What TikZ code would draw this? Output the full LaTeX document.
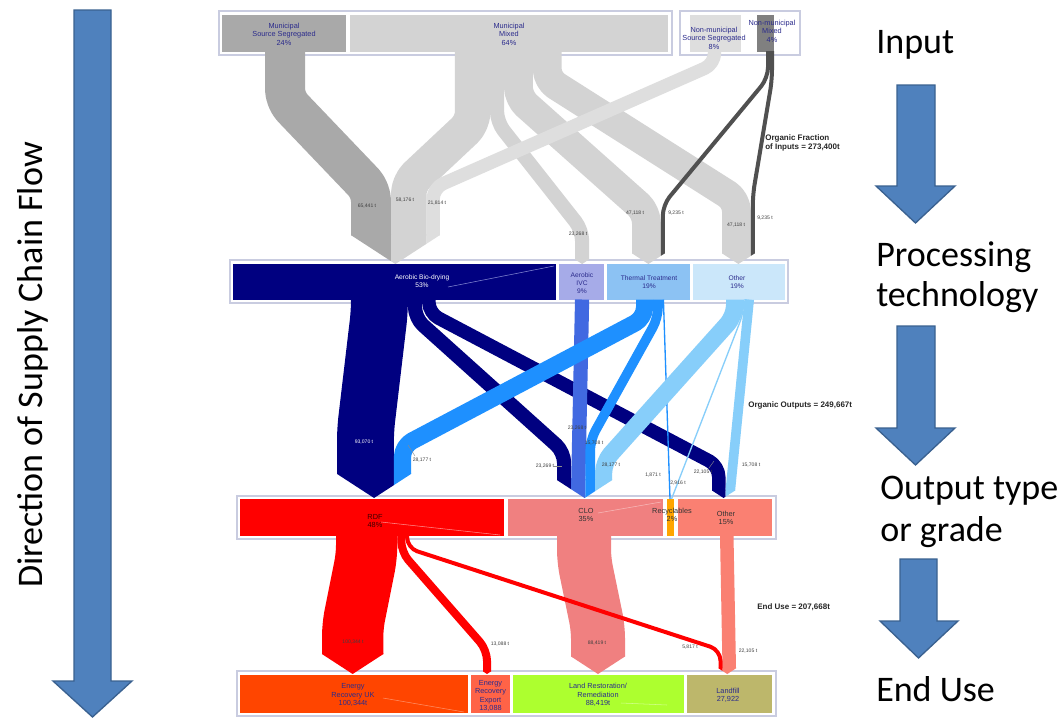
\documentclass[tikz,border=0pt]{standalone}
\usepackage{fontspec}
\setmainfont{Liberation Sans}
\newfontfamily\calibfont{Carlito}
% input colours
\definecolor{cMSS}{HTML}{A9A9A9}
\definecolor{cMM}{HTML}{D3D3D3}
\definecolor{cNMSS}{HTML}{DEDEDE}
\definecolor{cNMMbox}{HTML}{808080}
\definecolor{cNMM}{HTML}{505050}
% processing colours
\definecolor{cBio}{HTML}{000080}
\definecolor{cIVCbox}{HTML}{A6ABE8}
\definecolor{cIVC}{HTML}{4169E1}
\definecolor{cThbox}{HTML}{8CC2F3}
\definecolor{cTh}{HTML}{1E90FF}
\definecolor{cOPbox}{HTML}{CBE7FA}
\definecolor{cOP}{HTML}{87CEFA}
% output colours
\definecolor{cRDF}{HTML}{FF0000}
\definecolor{cCLO}{HTML}{F08080}
\definecolor{cRec}{HTML}{FFA500}
\definecolor{cOO}{HTML}{FA8072}
% end-use colours
\definecolor{cERUK}{HTML}{FF4500}
\definecolor{cERX}{HTML}{FF6347}
\definecolor{cLand}{HTML}{ADFF2F}
\definecolor{cLfill}{HTML}{BDB76B}
% frames, text, arrows
\definecolor{cFrame}{HTML}{C9CCE0}
\definecolor{cBoxText}{HTML}{2B2B8C}
\definecolor{cArrow}{HTML}{4F81BD}
\definecolor{cArrowEdge}{HTML}{3A6190}

% pointed end of a band: colour, xa, xb, group left, group right, tip y
\newcommand\chevpiece[6]{%
  \pgfmathsetmacro\chT{(#4+#5)/2}%
  \pgfmathsetmacro\chH{(#5-#4)/2}%
  \pgfmathsetmacro\chB{#6-0.65*\chH}%
  \pgfmathsetmacro\chC{min(max(\chT,#2),#3)}%
  \pgfmathsetmacro\chYa{\chB+0.65*(\chH-abs(#2-\chT))}%
  \pgfmathsetmacro\chYb{\chB+0.65*(\chH-abs(#3-\chT))}%
  \pgfmathsetmacro\chYc{\chB+0.65*(\chH-abs(\chC-\chT))}%
  \fill[#1] (#2,\chB-0.6) -- (#3,\chB-0.6) -- (#3,\chYb) -- (\chC,\chYc) -- (#2,\chYa) -- cycle;%
}

\begin{document}
\begin{tikzpicture}[x=0.75pt,y=-0.75pt,
  band/.style={line cap=butt,line join=round,rounded corners=8pt},
  bw/.style={line width=#1*0.75pt},
  box/.style={draw=none,inner sep=0,anchor=north west},
  bwh/.style 2 args={minimum width=#1*0.75pt,minimum height=#2*0.75pt},
  grpframe/.style={draw=cFrame,line width=1.1pt},
  lbl/.style={inner sep=0,align=center,font=\fontsize{5.5}{6.3}\selectfont,text=cBoxText},
  plbl/.style={inner sep=0,align=center,font=\fontsize{5}{6}\selectfont,text=cBoxText},
  flab/.style={inner sep=0,font=\fontsize{3.8}{4.5}\selectfont,text=black!75},
  note/.style={inner sep=0,anchor=west,align=left,font=\bfseries\fontsize{6}{7.2}\selectfont,text=black!85},
  big/.style={inner sep=0,anchor=base west,font=\calibfont\fontsize{27}{30}\selectfont,text=black},
  flowarrow/.style={fill=cArrow,draw=cArrowEdge,line width=1pt,line join=miter},
  leader/.style={draw=black!45,line width=0.3pt},
]
\fill[white] (0,0) rectangle (1063,718);
\path[use as bounding box] (0,0) rectangle (1063,718);

% ---------- direction arrows and stage captions ----------
\draw[flowarrow] (74,10) -- (111,10) -- (111,681) -- (132,681) -- (92.5,717) -- (53,681) -- (74,681) -- cycle;
\node[inner sep=0,rotate=90,font=\calibfont\fontsize{27}{30}\selectfont] (dir) at (33,365) {Direction of Supply Chain Flow};

\draw[flowarrow] (897,85) -- (935,85) -- (935,186) -- (955,186) -- (915.5,223) -- (876,186) -- (897,186) -- cycle;
\draw[flowarrow] (897,326) -- (935,326) -- (935,428) -- (955,428) -- (915.5,465) -- (876,428) -- (897,428) -- cycle;
\draw[flowarrow] (900,559) -- (937,559) -- (937,621) -- (958,621) -- (918.5,658) -- (880,621) -- (900,621) -- cycle;

\node[big] (capin) at (876,53) {Input};
\node[big] (capproc1) at (876,266) {Processing};
\node[big] (capproc2) at (876,306) {technology};
\node[big] (capout1) at (880,499) {Output type};
\node[big] (capout2) at (880,541) {or grade};
\node[big] (capend) at (876,701) {End Use};

% ---------- group frames ----------
\draw[grpframe] (219,11) rectangle (672,55);
\draw[grpframe] (680,11) rectangle (800,55);
\draw[grpframe] (230,260) rectangle (788,303);
\draw[grpframe] (237,496) rectangle (776,539);
\draw[grpframe] (237,671) rectangle (776,716);

% ---------- boxes ----------
\node[box,fill=cMSS,bwh={124}{37}] (mss) at (222,15) {};
\node[box,fill=cMM,bwh={318}{37}] (mm) at (350,15) {};
\node[box,fill=cNMSS,bwh={51}{37}] (nmss) at (690,15) {};
\node[box,fill=cNMMbox,bwh={17}{37}] (nmm) at (757,15) {};

\node[box,fill=cBio,bwh={323}{36}] (bio) at (233,264) {};
\node[box,fill=cIVCbox,bwh={45}{36}] (ivc) at (559,264) {};
\node[box,fill=cThbox,bwh={83}{36}] (thermal) at (607,264) {};
\node[box,fill=cOPbox,bwh={92}{36}] (otherp) at (693,264) {};

\node[box,fill=cRDF,bwh={264}{37}] (rdf) at (240,499) {};
\node[box,fill=cCLO,bwh={155}{37}] (clo) at (508,499) {};
\node[box,fill=cRec,bwh={7}{37}] (recyc) at (667,499) {};
\node[box,fill=cOO,bwh={94}{37}] (othero) at (678,499) {};

\node[box,fill=cERUK,bwh={228}{38}] (eruk) at (240,675) {};
\node[box,fill=cERX,bwh={39}{38}] (erex) at (471,675) {};
\node[box,fill=cLand,bwh={171}{38}] (land) at (513,675) {};
\node[box,fill=cLfill,bwh={85}{38}] (landfill) at (687,675) {};

% faint label leaders inside boxes
\draw[cIVCbox!80!cBio,line width=0.4pt] (448,287) -- (554,266);
\draw[white!55!cRDF,line width=0.4pt] (381,522) -- (500,535);
\draw[white!45!cCLO,line width=0.4pt] (598,513) -- (661,502);
\draw[white!40!cERUK,line width=0.4pt] (383,698) -- (464,712);
\draw[white!45!cLand,line width=0.4pt] (621,703) -- (667,705);

% ---------- inputs -> processing ----------
\draw[band,cMSS,bw=40] (285,51) -- (285,100) -- (371,190) -- (371,235.3);
\draw[band,cMM,bw=35.5] (472.7,51) -- (472.7,123) -- (408.75,183) -- (408.75,235.3);
\draw[band,cMM,bw=14.2] (497,51) -- (497,122) -- (582.1,230) -- (582.1,259.4);
\draw[band,cMM,bw=28.8] (518.4,51) -- (518.4,98) -- (646.4,212) -- (646.4,253.3);
\draw[band,cMM,bw=28.8] (547.2,51) -- (547.2,80) -- (736.4,200) -- (736.4,253.3);
\draw[band,cNMSS,bw=13.3] (714.5,51) -- (714.5,64) -- (433.15,188) -- (433.15,235.3);
\draw[band,cNMM,bw=4] (768,51) -- (768,78) -- (662.8,205) -- (662.8,253.3);
\draw[band,cNMM,bw=4] (772,51) -- (772,80) -- (752.8,195) -- (752.8,253.3);

\chevpiece{cMSS}{351}{391}{351}{439.8}{264}
\chevpiece{cMM}{391}{426.5}{351}{439.8}{264}
\chevpiece{cNMSS}{426.5}{439.8}{351}{439.8}{264}
\chevpiece{cMM}{575}{589.2}{575}{589.2}{264}
\chevpiece{cMM}{632}{660.8}{632}{664.8}{264}
\chevpiece{cNMM}{660.8}{664.8}{632}{664.8}{264}
\chevpiece{cMM}{722}{750.8}{722}{754.8}{264}
\chevpiece{cNMM}{750.8}{754.8}{722}{754.8}{264}

\node[flab] (l1) at (367,206) {65,441 t};
\node[flab] (l2) at (405,200) {58,176 t};
\node[flab] (l3) at (437,203) {21,814 t};
\node[flab] (l4) at (578,234) {23,268 t};
\node[flab] (l5) at (635,213) {47,118 t};
\node[flab] (l6) at (676,213) {9,235 t};
\node[flab] (l7) at (736,225) {47,118 t};
\node[flab] (l8) at (765,218) {9,235 t};

% ---------- processing -> outputs ----------
\draw[band,cBio,bw=56.9] (379.4,299.5) -- (379.4,312) -- (365.45,430) -- (365.45,473.9);
\draw[band,cBio,bw=14.2] (415,299.5) -- (415,318) -- (564.1,452) -- (564.1,480.1);
\draw[band,cBio,bw=13.5] (428.85,299.5) -- (428.85,313) -- (718.75,466) -- (718.75,490.5);
\draw[band,cIVC,bw=14.2] (582.1,299.5) -- (578.3,480.1);
\draw[band,cTh,bw=17.2] (644.6,299.5) -- (644.6,318) -- (402.5,446) -- (402.5,473.9);
\draw[band,cTh,bw=9.6] (658,299.5) -- (658,318) -- (590.2,440) -- (590.2,480.1);
\draw[cTh,line width=1pt] (663.4,299.5) -- (670,499);
\draw[band,cOP,bw=17.2] (734.6,299.5) -- (734.6,316) -- (603.6,462) -- (603.6,480.1);
\draw[band,cOP,line width=1pt] (743.8,299.5) -- (743.8,312) -- (671.5,499);
\draw[band,cOP,bw=9.6] (749.2,299.5) -- (730.3,490.5);

\chevpiece{cBio}{337}{393.9}{337}{411.1}{498}
\chevpiece{cTh}{393.9}{411.1}{337}{411.1}{498}
\chevpiece{cBio}{557}{571.2}{557}{612.2}{498}
\chevpiece{cIVC}{571.2}{585.4}{557}{612.2}{498}
\chevpiece{cTh}{585.4}{595}{557}{612.2}{498}
\chevpiece{cOP}{595}{612.2}{557}{612.2}{498}
\chevpiece{cBio}{712}{725.5}{712}{735.1}{498}
\chevpiece{cOP}{725.5}{735.1}{712}{735.1}{498}

\node[flab,text=white] (m1) at (364,442) {93,070 t};
\node[flab] (m2) at (422,460) {28,177 t};
\draw[leader] (408,445) -- (415,456);
\node[flab] (m3) at (577,428) {23,268 t};
\node[flab] (m4) at (594,443) {15,708 t};
\node[flab] (m5) at (545,466) {23,269 t};
\draw[leader] (553,466) -- (562,466);
\node[flab] (m6) at (611,465) {28,177 t};
\node[flab] (m7) at (653,475) {1,871 t};
\node[flab] (m8) at (678,483) {2,916 t};
\node[flab] (m9) at (703,472) {22,105 t};
\draw[leader] (709,468) -- (714,461);
\node[flab] (m10) at (751,465) {15,708 t};

% ---------- outputs -> end use ----------
\draw[band,cRDF,bw=61.3] (366.65,535.5) -- (366.65,556) -- (352.65,626) -- (352.65,654.1);
\draw[band,cRDF,bw=8] (401.3,535.5) -- (401.3,552) -- (487,650) -- (487,671.4);
\draw[band,cCLO,bw=54] (584,535.5) -- (584,560) -- (598,628) -- (598,656.45);
\draw[band,cOO,bw=13.5] (726.75,535.5) -- (729.25,668.3);
\draw[band,cRDF,bw=4] (407.1,535.5) -- (407.1,548) -- (720.5,650) -- (720.5,668.3);

\chevpiece{cRDF}{322}{383.3}{322}{383.3}{674}
\chevpiece{cRDF}{483}{491}{483}{491}{674}
\chevpiece{cCLO}{571}{625}{571}{625}{674}
\chevpiece{cRDF}{718.5}{722.5}{718.5}{736}{674}
\chevpiece{cOO}{722.5}{736}{718.5}{736}{674}

\node[flab] (e1) at (353,642) {100,344 t};
\node[flab] (e2) at (500,644) {13,088 t};
\node[flab] (e3) at (597,643) {88,419 t};
\node[flab] (e4) at (690,647) {5,817 t};
\node[flab] (e5) at (748,651) {22,105 t};

% ---------- box labels ----------
\node[lbl] (tmss) at (284,34) {Municipal\\Source Segregated\\24\%};
\node[lbl] (tmm) at (509,34) {Municipal\\Mixed\\64\%};
\node[lbl] (tnmss) at (714,38) {Non-municipal\\Source Segregated\\8\%};
\node[lbl] (tnmm) at (772,31) {Non-municipal\\Mixed\\4\%};

\node[plbl,text=white] (tbio) at (422,281) {Aerobic Bio-drying\\53\%};
\node[plbl] (tivc) at (582,283) {Aerobic\\IVC\\9\%};
\node[plbl] (tth) at (649,282) {Thermal Treatment\\19\%};
\node[plbl] (top) at (737,282) {Other\\19\%};

\node[lbl,text=black!75!red] (trdf) at (375,521) {RDF\\48\%};
\node[lbl,text=black!80] (tclo) at (586,515) {CLO\\35\%};
\node[lbl,text=black!80] (trec) at (672,515) {Recyclables\\2\%};
\node[lbl,text=black!80] (toth) at (726,518) {Other\\15\%};

\node[lbl] (teruk) at (353,695) {Energy\\Recovery UK\\100,344t};
\node[lbl] (terex) at (490.5,696) {Energy\\Recovery\\Export\\13,088};
\node[lbl] (tland) at (598,695) {Land Restoration/\\Remediation\\88,419t};
\node[lbl] (tlfill) at (728,695) {Landfill\\27,922};

% ---------- totals ----------
\node[note] (n1) at (765,143) {Organic Fraction\\of Inputs = 273,400t};
\node[note] (n2) at (748,405) {Organic Outputs = 249,667t};
\node[note] (n3) at (757,607) {End Use = 207,668t};
\end{tikzpicture}
\end{document}
